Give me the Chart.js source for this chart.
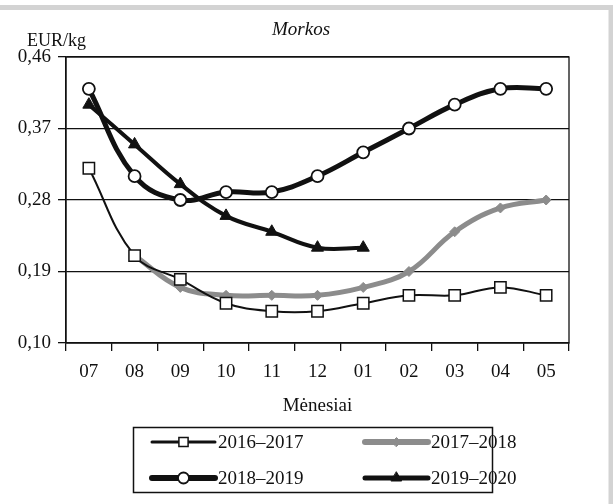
<!DOCTYPE html>
<html>
<head>
<meta charset="utf-8">
<script src="https://cdn.jsdelivr.net/npm/chart.js@4"></script>
<style>
  html, body { margin: 0; padding: 0; background: #fff; }
  #wrap { width: 613px; height: 504px; position: relative; }
</style>
</head>
<body>
<div id="wrap"><canvas id="lineChart" width="613" height="504"></canvas></div>
<script>
var months = ["07", "08", "09", "10", "11", "12", "01", "02", "03", "04", "05"];
var yTicks = [0.10, 0.19, 0.28, 0.37, 0.46];
var s2016 = [0.32, 0.21, 0.18, 0.15, 0.14, 0.14, 0.15, 0.16, 0.16, 0.17, 0.16];
var s2017 = [null, 0.21, 0.17, 0.16, 0.16, 0.16, 0.17, 0.19, 0.24, 0.27, 0.28];
var s2018 = [0.42, 0.31, 0.28, 0.29, 0.29, 0.31, 0.34, 0.37, 0.40, 0.42, 0.42];
var s2019 = [0.40, 0.35, 0.30, 0.26, 0.24, 0.22, 0.22, null, null, null, null];
var seriesNames = ["2016–2017", "2017–2018", "2018–2019", "2019–2020"];

var serif = "'Liberation Serif', 'DejaVu Serif', serif";

// frame, titles, plot border and boxed legend
var extras = {
  id: 'extras',
  beforeDraw: function (chart) {
    var c = chart.ctx;
    c.save();
    c.strokeStyle = '#d3d3d3';
    c.lineWidth = 5;
    c.strokeRect(-20, 7.5, 631, 540);
    c.restore();
  },
  afterDatasetsDraw: function (chart) {
    var c = chart.ctx, a = chart.chartArea;
    c.save();
    c.strokeStyle = '#111';
    c.lineWidth = 1.3;
    c.strokeRect(a.left, a.top, a.right - a.left, a.bottom - a.top);
    c.fillStyle = '#111';
    c.textBaseline = 'middle';
    c.font = 'italic 19px ' + serif;
    c.textAlign = 'center';
    c.fillText('Morkos', 301, 30);
    c.font = '18px ' + serif;
    c.textAlign = 'left';
    c.fillText('EUR/kg', 27, 41);

    // legend
    c.lineWidth = 1.5;
    c.strokeRect(133.5, 427.5, 359, 65);
    var pos = [[152, 442], [365, 442], [152, 478], [365, 478]];
    var legR = [6.5, 4.5, 5.5, 6];
    chart.data.datasets.forEach(function (ds, i) {
      var x = pos[i][0], y = pos[i][1], w = 63;
      c.strokeStyle = ds.borderColor;
      c.lineWidth = ds.borderWidth + 1;
      c.lineCap = 'round';
      c.beginPath();
      c.moveTo(x, y);
      c.lineTo(x + w, y);
      c.stroke();
      c.fillStyle = ds.pointBackgroundColor;
      c.strokeStyle = ds.pointBorderColor;
      c.lineWidth = ds.pointBorderWidth;
      Chart.helpers.drawPoint(c, {
        pointStyle: ds.pointStyle,
        radius: legR[i],
        borderWidth: ds.pointBorderWidth,
        rotation: 0
      }, x + w / 2, y);
      c.fillStyle = '#111';
      c.font = '19px ' + serif;
      c.textAlign = 'left';
      c.fillText(ds.label, x + w + 3, y + 1);
    });
    c.restore();
  }
};

var ctx = document.getElementById("lineChart").getContext('2d');
var myLineChart = new Chart(ctx, {
  type: 'line',
  data: {
    labels: months,
    datasets: [{
      label: seriesNames[0],
      data: s2016,
      borderColor: '#111',
      borderWidth: 2,
      pointStyle: 'rect',
      pointRadius: 8,
      pointBorderWidth: 1.5,
      pointBackgroundColor: '#fff',
      pointBorderColor: '#111',
      tension: 0.4
    }, {
      label: seriesNames[1],
      data: s2017,
      borderColor: '#8c8c8c',
      borderWidth: 5,
      pointStyle: 'rectRot',
      pointRadius: 5,
      pointBorderWidth: 1,
      pointBackgroundColor: '#8c8c8c',
      pointBorderColor: '#8c8c8c',
      tension: 0.4
    }, {
      label: seriesNames[2],
      data: s2018,
      borderColor: '#111',
      borderWidth: 5,
      pointStyle: 'circle',
      pointRadius: 6,
      pointBorderWidth: 1.8,
      pointBackgroundColor: '#fff',
      pointBorderColor: '#111',
      tension: 0.4
    }, {
      label: seriesNames[3],
      data: s2019,
      borderColor: '#111',
      borderWidth: 4,
      pointStyle: 'triangle',
      pointRadius: 7,
      pointBorderWidth: 1,
      pointBackgroundColor: '#111',
      pointBorderColor: '#111',
      tension: 0.4
    }]
  },
  options: {
    responsive: false,
    animation: false,
    layout: { padding: { left: 0, right: 44, top: 57, bottom: 87 } },
    plugins: {
      legend: { display: false },
      tooltip: { enabled: false }
    },
    scales: {
      x: {
        offset: true,
        grid: { offset: true, drawOnChartArea: false, color: '#111', lineWidth: 1.3, tickLength: 8 },
        border: { color: '#111', width: 1.3 },
        ticks: { color: '#111', font: { family: serif, size: 19 }, padding: 10, maxRotation: 0 },
        title: { display: true, text: 'Mėnesiai', color: '#111', font: { family: serif, size: 19 }, padding: { top: 8, bottom: 0 } },
        afterFit: function (scale) { scale.height = 74; }
      },
      y: {
        min: 0.10,
        max: 0.46,
        afterBuildTicks: function (scale) {
          scale.ticks = yTicks.map(function (v) { return { value: v }; });
        },
        grid: { color: '#111', lineWidth: 1.3, tickLength: 8 },
        border: { color: '#111', width: 1.3 },
        ticks: {
          color: '#111',
          font: { family: serif, size: 19 },
          padding: 7,
          callback: function (v) { return v.toFixed(2).replace('.', ','); }
        },
        afterFit: function (scale) { scale.width = 66; }
      }
    }
  },
  plugins: [extras]
});
</script>
</body>
</html>
